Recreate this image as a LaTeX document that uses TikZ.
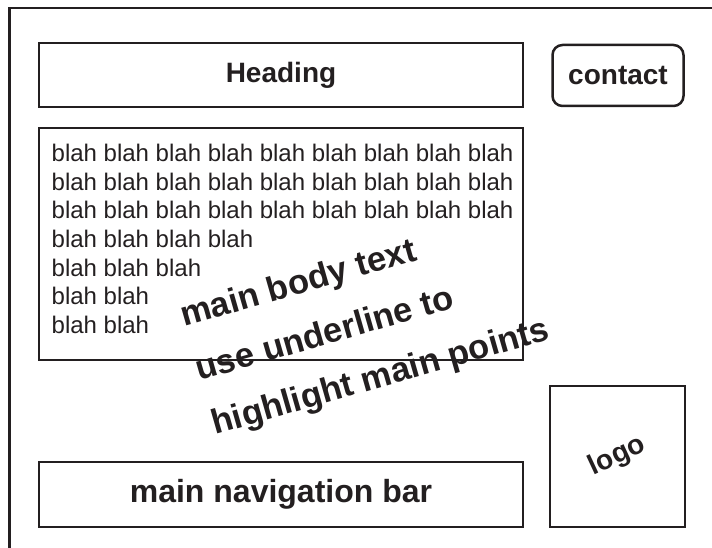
\documentclass[tikz,border=0pt]{standalone}
\usepackage{fontspec}
\setmainfont{Liberation Sans}
\definecolor{ink}{RGB}{35,31,32}
\begin{document}
\begin{tikzpicture}[x=1pt,y=-1pt,
  frameline/.style={draw=ink,line width=2.5pt},
  panel/.style={draw=ink,line width=2.5pt,inner sep=0pt,text=ink},
  bigbold/.style={font=\fontsize{28}{32}\selectfont\bfseries},
  slanted/.style={text=ink,inner sep=0pt,anchor=base west,rotate=16,
    font=\fontsize{34.5}{38}\selectfont\bfseries}]
\useasboundingbox (0,0) rectangle (712,548);

% page outline, running off the right and bottom edges
\coordinate (pgbl) at (9.5,560);
\coordinate (pgtl) at (9.5,8);
\coordinate (pgtr) at (720,8);
\draw[frameline] (pgbl) -- (pgtl) -- (pgtr);

% heading and contact
\node[panel,bigbold,minimum width=484pt,minimum height=64pt] (heading) at (281,75) {Heading};
\node[panel,bigbold,rounded corners=10pt,minimum width=131pt,minimum height=61pt] (contact) at (618,75.5) {contact};

% main body panel and its text (anchored on the baseline of the last line)
\node[panel,minimum width=484pt,minimum height=232pt] (body) at (281,244) {};
\node[text=ink,inner sep=0pt,anchor=base west,align=left,
  font=\fontsize{24}{28.6}\selectfont] (bodytext) at (51.5,333.3)
  {blah blah blah blah blah blah blah blah blah\\
   blah blah blah blah blah blah blah blah blah\\
   blah blah blah blah blah blah blah blah blah\\
   blah blah blah blah\\
   blah blah blah\\
   blah blah\\
   blah blah};

% slanted notes
\node[slanted] (note1) at (184,327) {main body text};
\node[slanted] (note2) at (199.5,381) {use underline to};
\node[slanted] (note3) at (215.5,435) {highlight main points};

% logo and navigation bar
\node[panel,minimum width=135pt,minimum height=141pt] (logo) at (617.5,456.5) {};
\node[text=ink,rotate=25,bigbold] (logotext) at (logo.center) {logo};
\node[panel,font=\fontsize{32}{36}\selectfont\bfseries,minimum width=484pt,minimum height=65pt] (nav) at (281,494.5) {main navigation bar};
\end{tikzpicture}
\end{document}
